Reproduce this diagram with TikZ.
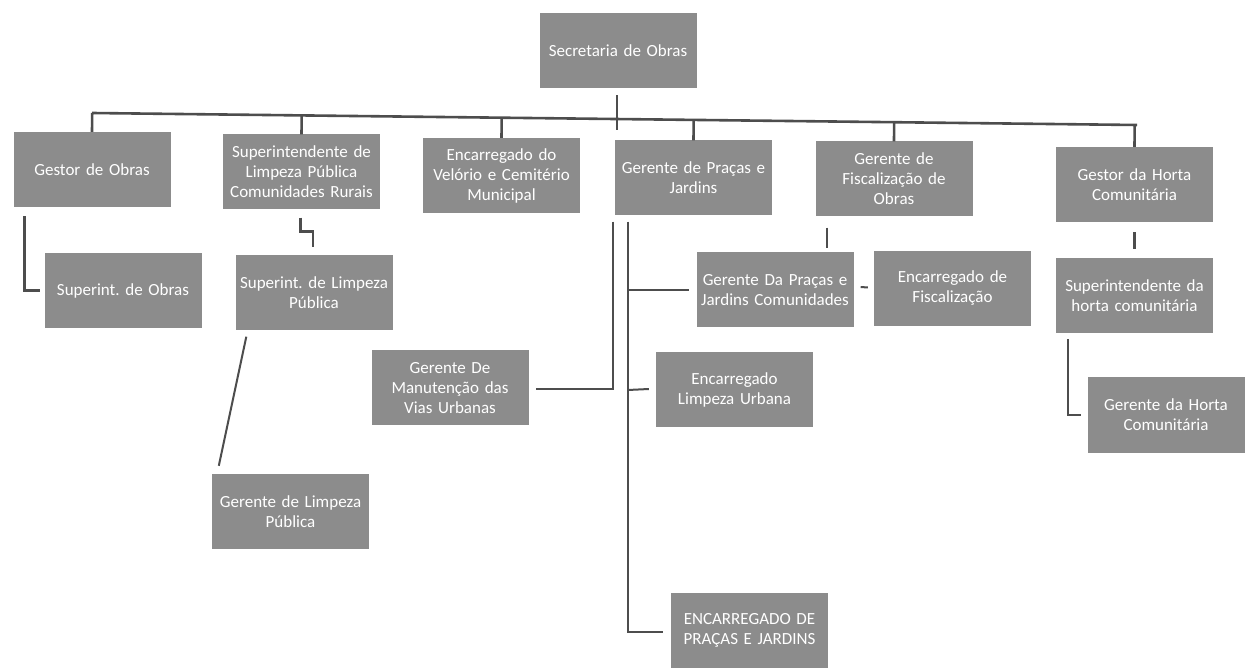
\documentclass[tikz,border=0pt]{standalone}
\usepackage{fontspec}
\setmainfont{Carlito}
\usetikzlibrary{calc}
\definecolor{boxgray}{HTML}{8C8C8C}
\definecolor{linegray}{HTML}{4D4D4D}
\tikzset{
  orgbox/.style={fill=boxgray, text=white, minimum width=157pt, minimum height=75pt,
    text width=156pt, align=center, inner sep=0.5pt,
    font=\fontsize{17}{20}\selectfont},
  link/.style={draw=linegray, line width=2.6pt},
  thinlink/.style={draw=linegray, line width=2pt}
}
\begin{document}
\begin{tikzpicture}[x=1pt,y=-1pt]
\useasboundingbox[fill=white] (0,0) rectangle (1254,668);
% nodes
\node[orgbox] (sec)  at (618,50.5)   {Secretaria de Obras};
\node[orgbox] (gob)  at (92,169.5)   {Gestor de Obras};
\node[orgbox] (slp)  at (301.5,172)  {Superintendente de\\Limpeza Pública\\Comunidades Rurais};
\node[orgbox] (evc)  at (501.5,175.5){Encarregado do\\Velório e Cemitério\\Municipal};
\node[orgbox] (gpj)  at (693.5,178)  {Gerente de Praças e\\Jardins};
\node[orgbox] (gfo)  at (894,179)    {Gerente de\\Fiscalização de\\Obras};
\node[orgbox] (gho)  at (1134.5,184.5){Gestor da Horta\\Comunitária};
\node[orgbox] (sob)  at (123,290.5)  {Superint.\ de Obras};
\node[orgbox] (slpu) at (314,293)    {Superint.\ de Limpeza\\Pública};
\node[orgbox] (gpjc) at (775,290)    {Gerente Da Praças e\\Jardins Comunidades};
\node[orgbox] (efi)  at (952.5,288.5){Encarregado de\\Fiscalização};
\node[orgbox] (sho)  at (1134.5,295.5){Superintendente da\\horta comunitária};
\node[orgbox] (gehc) at (1166,415)   {Gerente da Horta\\Comunitária};
\node[orgbox] (gmv)  at (450,388)    {Gerente De\\Manutenção das\\Vias Urbanas};
\node[orgbox] (elu)  at (734.5,390)  {Encarregado\\Limpeza Urbana};
\node[orgbox] (glp)  at (290.5,511.5){Gerente de Limpeza\\Pública};
\node[orgbox] (epj)  at (749.5,630)  {ENCARREGADO DE\\PRAÇAS E JARDINS};
% bus
\coordinate (busL) at (92,113);
\coordinate (busR) at (1137,125);
\draw[link] (busL) -- (busR);
\draw[link] ([shift={(-1,7)}]sec.south) -- ([shift={(-1,42)}]sec.south);
\foreach \n in {gob,slp,evc,gpj,gfo,gho}{
  \draw[link] (\n.north) -- ($(busL)!(\n.north)!(busR)$);
}
% Gestor de Obras -> Superint. de Obras
\draw[link] ([shift={(11,9)}]gob.south west) |- ([shift={(-4,0)}]sob.west);
% Superintendente LP CR -> Superint. LP
\draw[link] ([shift={(-1,8)}]slp.south) -- ++(0,14) -| ([shift={(-1,-8)}]slpu.north);
% Superint. LP -> Gerente LP
\draw[thinlink] ([shift={(11,6)}]slpu.south west) -- ([shift={(7,-8)}]glp.north west);
% Gerente de Praças e Jardins
\coordinate (ax) at ([shift={(-2,6)}]gpj.south west);
\coordinate (bx) at ([shift={(13,6)}]gpj.south west);
\draw[link] (ax) |- ([shift={(7,1)}]gmv.east);
\draw[link] (bx) |- ([shift={(-8,2)}]epj.west);
\draw[thinlink] (bx |- gpjc.west) -- ([shift={(-7,0)}]gpjc.west);
\draw[thinlink] (bx |- elu.west) -- ([shift={(-7,-1)}]elu.west);
% Gerente de Fiscalização
\draw[thinlink] ([shift={(12,11)}]gfo.south west) -- ([shift={(12,31)}]gfo.south west);
\draw[thinlink] ([shift={(7,-3)}]gpjc.east) -- ([shift={(-6,-1)}]efi.west);
% Horta
\draw[link] ([shift={(0,10)}]gho.south) -- ([shift={(0,-9)}]sho.north);
\draw[link] ([shift={(12,6)}]sho.south west) |- ([shift={(-6,0)}]gehc.west);
\end{tikzpicture}
\end{document}
